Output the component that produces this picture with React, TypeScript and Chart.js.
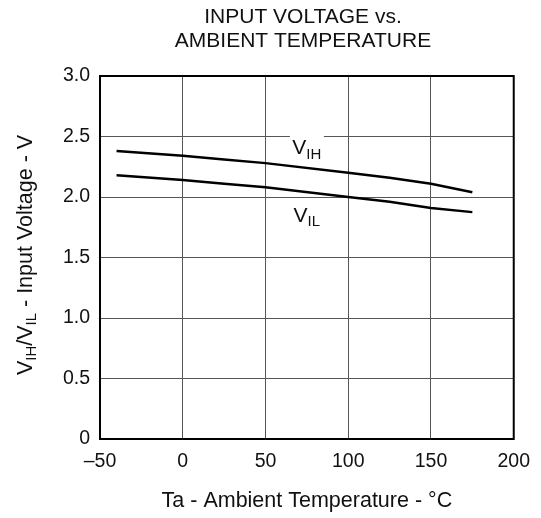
import React, { useEffect, useRef } from "react";
import { Chart, registerables } from "chart.js";

Chart.register(...registerables);

const temps = [-40, 0, 25, 50, 100, 125, 150, 175];
const vih = [2.38, 2.34, 2.31, 2.28, 2.2, 2.16, 2.11, 2.04];
const vil = [2.18, 2.14, 2.11, 2.08, 2.0, 1.96, 1.91, 1.875];
const xTicks = [-50, 0, 50, 100, 150, 200];
const yTicks = [0, 0.5, 1.0, 1.5, 2.0, 2.5, 3.0];
const titleLines = ["INPUT VOLTAGE vs.", "AMBIENT TEMPERATURE"];
const xTitle = "Ta - Ambient Temperature - °C";
const FONT = "'Liberation Sans', Arial, Helvetica, sans-serif";

function drawSub(ctx: CanvasRenderingContext2D, parts: [string, boolean][], x: number, y: number, size: number, align: "center" | "left") {
  let total = 0;
  const widths = parts.map(([t, sub]) => {
    ctx.font = `${sub ? Math.round(size * 0.72) : size}px ${FONT}`;
    const w = ctx.measureText(t).width;
    total += w;
    return w;
  });
  let cx = align === "center" ? x - total / 2 : x;
  ctx.textAlign = "left";
  ctx.textBaseline = "middle";
  parts.forEach(([t, sub], i) => {
    ctx.font = `${sub ? Math.round(size * 0.72) : size}px ${FONT}`;
    ctx.fillText(t, cx, sub ? y + size * 0.28 : y);
    cx += widths[i];
  });
  return total;
}

const textPlugin = {
  id: "textPlugin",
  afterDraw(chart: any) {
    const ctx: CanvasRenderingContext2D = chart.ctx;
    const a = chart.chartArea;
    const xs = chart.scales.x;
    const ys = chart.scales.y;
    ctx.save();
    ctx.strokeStyle = "#000";
    ctx.lineWidth = 2;
    ctx.strokeRect(a.left, a.top, a.right - a.left, a.bottom - a.top);
    ctx.fillStyle = "#111";
    ctx.font = `21px ${FONT}`;
    ctx.textAlign = "center";
    ctx.textBaseline = "middle";
    ctx.fillText(titleLines[0], 303, 17);
    ctx.fillText(titleLines[1], 303, 41);
    ctx.font = `21.5px ${FONT}`;
    ctx.fillText(xTitle, (a.left + a.right) / 2, 501);
    ctx.save();
    ctx.translate(26, 255);
    ctx.rotate(-Math.PI / 2);
    drawSub(ctx, [["V", false], ["IH", true], ["/V", false], ["IL", true], [" - Input Voltage - V", false]], 0, 0, 21.5, "center");
    ctx.restore();
    const lx = xs.getPixelForValue(75);
    const hy = ys.getPixelForValue(2.4);
    ctx.fillStyle = "#fff";
    ctx.fillRect(lx - 17, hy - 13, 34, 26);
    ctx.fillStyle = "#111";
    drawSub(ctx, [["V", false], ["IH", true]], lx, hy, 21, "center");
    const ly = ys.getPixelForValue(1.84);
    drawSub(ctx, [["V", false], ["IL", true]], lx, ly, 21, "center");
    ctx.restore();
  },
};

export default function App() {
  const ref = useRef<HTMLCanvasElement>(null);
  useEffect(() => {
    if (!ref.current) return;
    const chart = new Chart(ref.current, {
      type: "scatter",
      data: {
        datasets: [
          {
            label: "VIH",
            data: temps.map((t, i) => ({ x: t, y: vih[i] })),
            showLine: true,
            borderColor: "#000",
            borderWidth: 2.5,
            pointRadius: 0,
          },
          {
            label: "VIL",
            data: temps.map((t, i) => ({ x: t, y: vil[i] })),
            showLine: true,
            borderColor: "#000",
            borderWidth: 2.5,
            pointRadius: 0,
          },
        ],
      },
      options: {
        animation: false,
        responsive: false,
        layout: { padding: { left: 0, top: 76, right: 27, bottom: 0 } },
        plugins: { legend: { display: false }, tooltip: { enabled: false }, title: { display: false } },
        scales: {
          x: {
            type: "linear",
            min: -50,
            max: 200,
            afterBuildTicks: (s: any) => {
              s.ticks = xTicks.map((v) => ({ value: v }));
            },
            afterFit: (s: any) => {
              s.height = 79;
            },
            grid: { color: "#555", lineWidth: 1, drawTicks: false },
            border: { display: false },
            ticks: {
              padding: 11,
              color: "#111",
              font: { size: 19.5, family: FONT },
              callback: (v: any) => (v < 0 ? "\u2013" + Math.abs(v) : String(v)),
            },
          },
          y: {
            type: "linear",
            min: 0,
            max: 3,
            afterBuildTicks: (s: any) => {
              s.ticks = yTicks.map((v) => ({ value: v }));
            },
            afterFit: (s: any) => {
              s.width = 100;
            },
            grid: { color: "#555", lineWidth: 1, drawTicks: false },
            border: { display: false },
            ticks: {
              padding: 10,
              color: "#111",
              font: { size: 19.5, family: FONT },
              callback: (v: any) => (v === 0 ? "0" : Number(v).toFixed(1)),
            },
          },
        },
      },
      plugins: [textPlugin],
    });
    return () => chart.destroy();
  }, []);
  return (
    <div style={{ position: "absolute", left: 0, top: 0, width: 541, height: 518, background: "#fff" }}>
      <canvas ref={ref} width={541} height={518} />
    </div>
  );
}
